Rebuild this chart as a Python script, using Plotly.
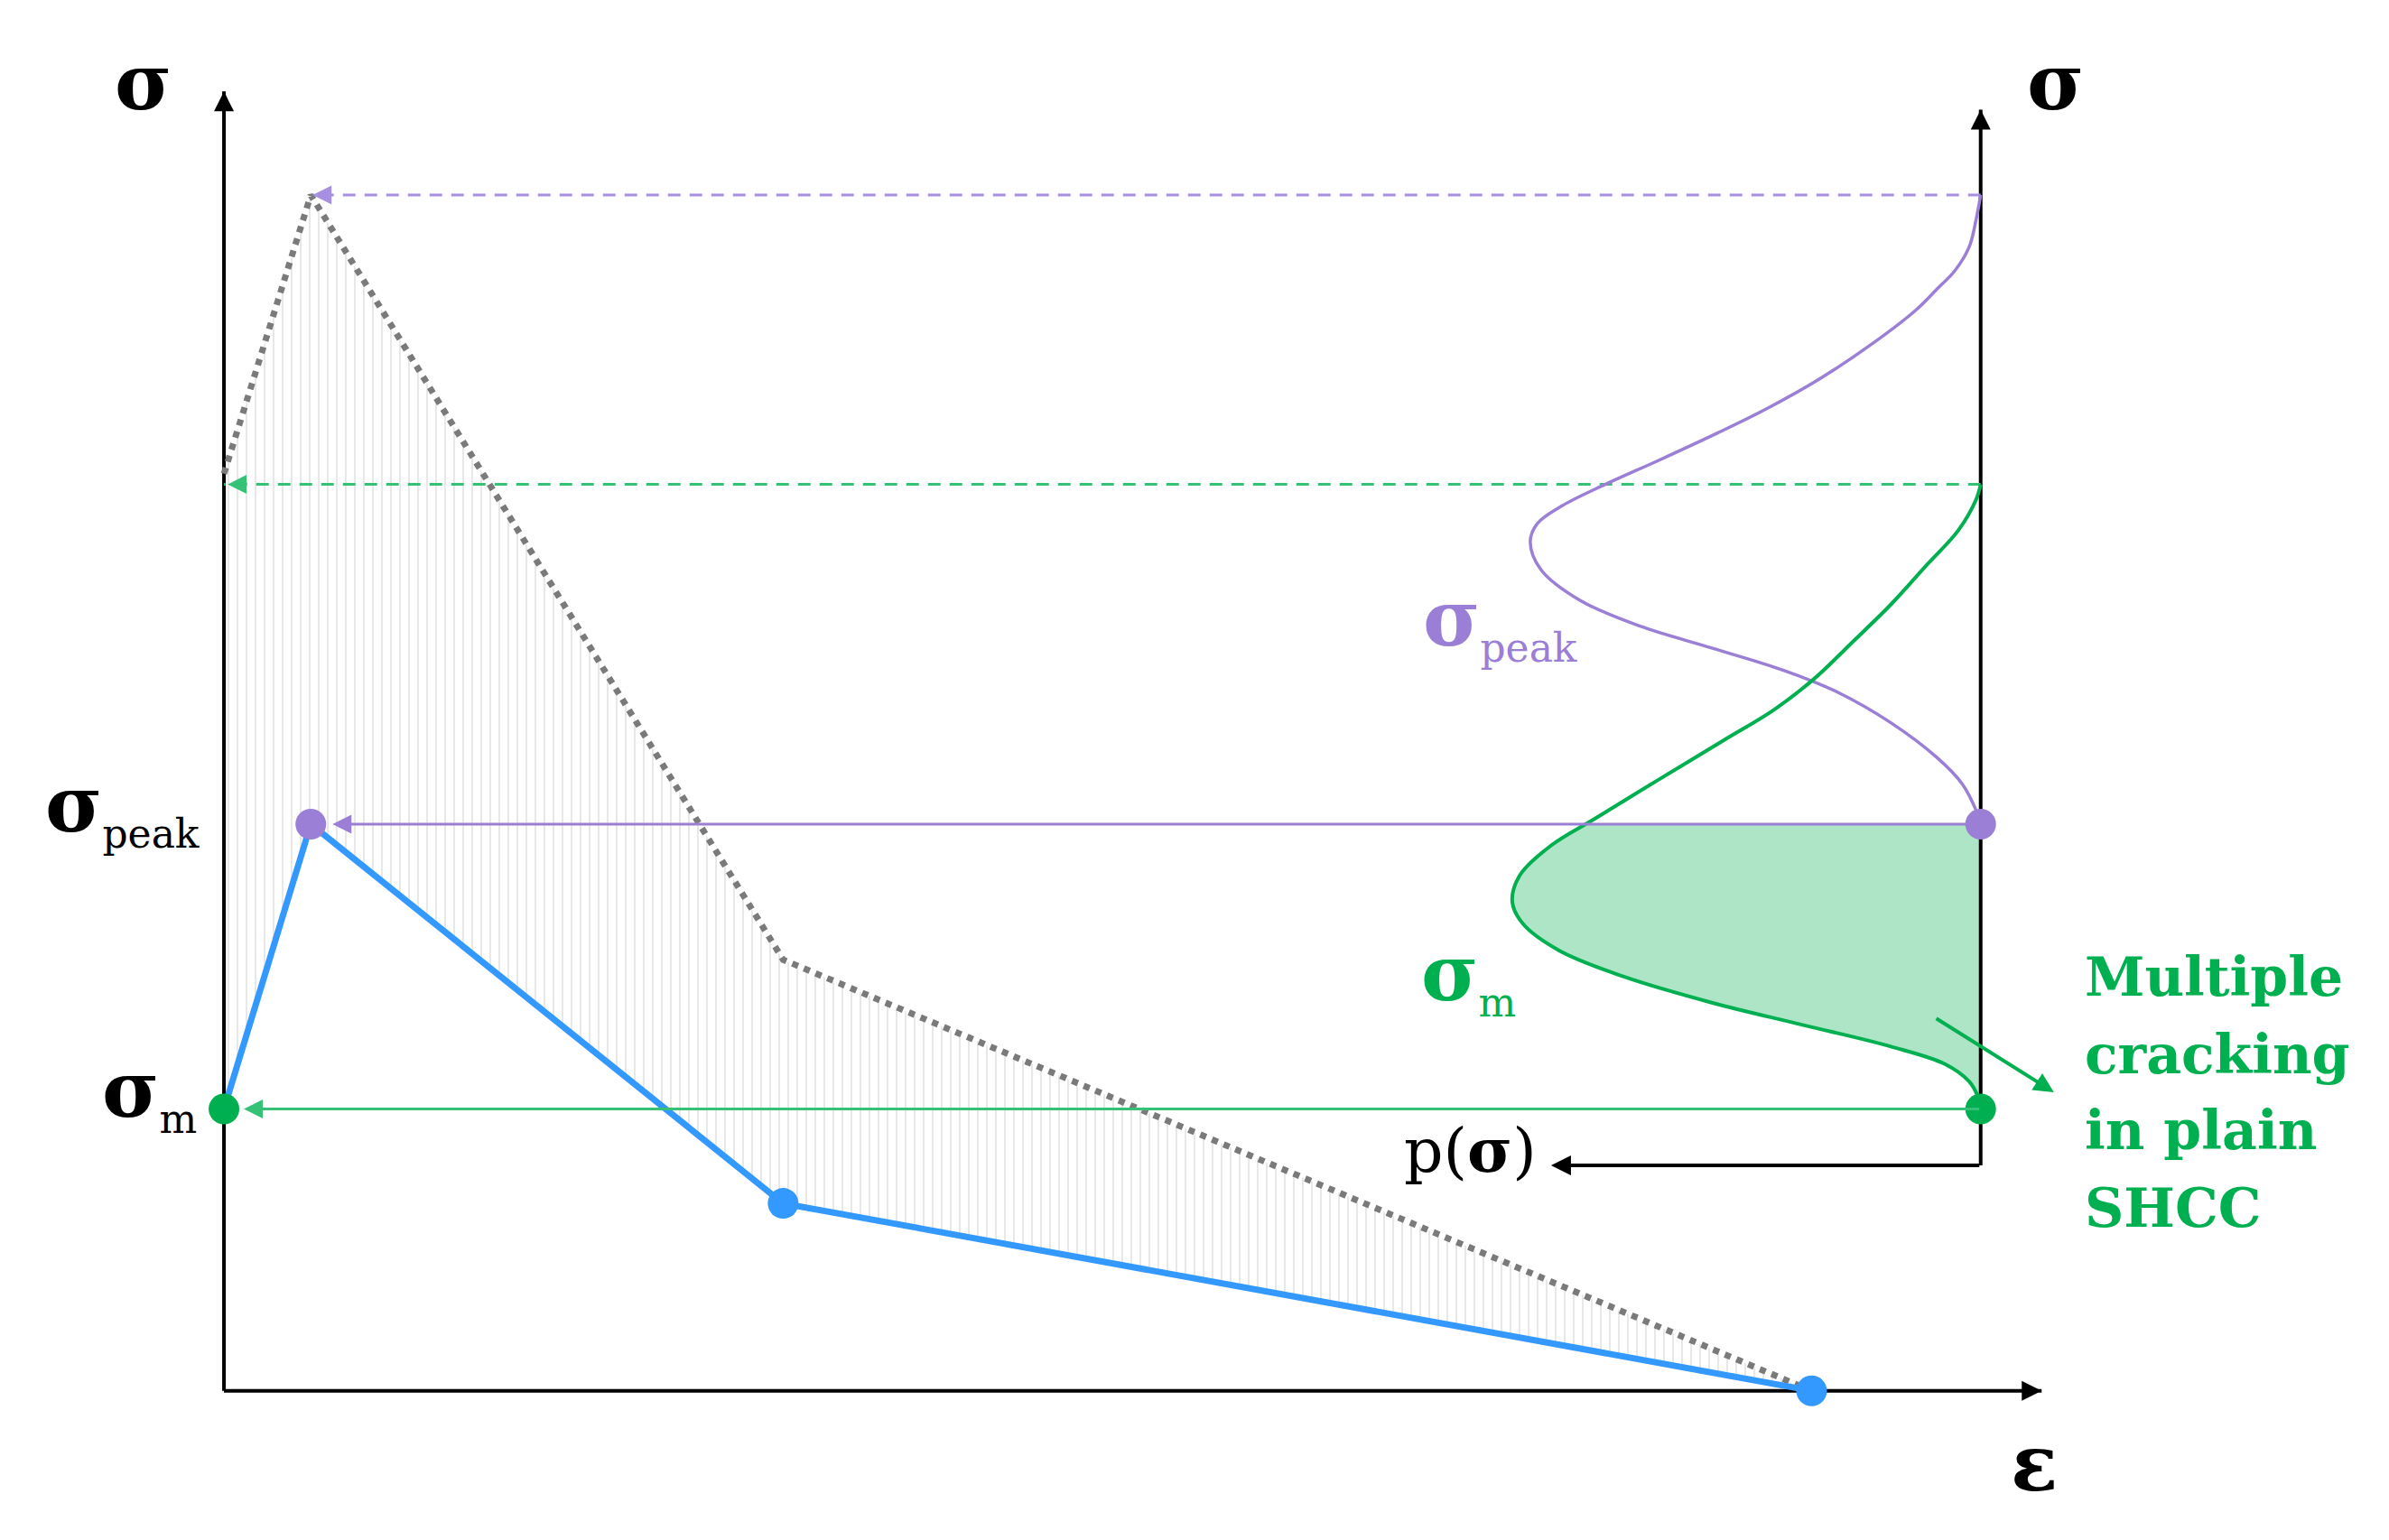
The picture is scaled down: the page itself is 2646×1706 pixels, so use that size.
import numpy as np
import plotly.graph_objects as go

# Curva sigma-epsilon del SHCC (azul) y envolvente punteada (gris)
eps_shcc = [0.0, 0.547, 3.522, 10.0]
sig_shcc = [2.357, 4.739, 1.567, 0.0]
eps_env = [0.0, 0.547, 3.522, 10.0]
sig_env = [7.669, 10.0, 3.605, 0.0]

# Niveles de esfuerzo marcados
sigma_m = 2.357
sigma_peak = 4.739
sigma_peak_top = 10.0
sigma_m_top = 7.58

# Distribuciones p(sigma) dibujadas sobre el eje derecho (hacia la izquierda)
sig_peak_pdf = [10.0, 9.794, 9.567, 9.366, 9.215, 9.038, 8.761, 8.460, 8.209, 8.008, 7.781, 7.580,
                7.403, 7.252, 7.101, 6.868, 6.611, 6.392, 6.210, 6.025, 5.843, 5.587, 5.294, 5.075,
                4.855, 4.739]
p_peak_pdf = [0.0, 0.029, 0.072, 0.163, 0.274, 0.408, 0.678, 1.017, 1.353, 1.660, 2.028, 2.365,
              2.634, 2.793, 2.837, 2.770, 2.524, 2.140, 1.689, 1.241, 0.902, 0.566, 0.274, 0.116,
              0.029, 0.0]
sig_m_pdf = [7.580, 7.452, 7.197, 6.904, 6.575, 6.282, 5.953, 5.697, 5.439, 5.111, 4.782, 4.563,
             4.306, 4.087, 3.904, 3.684, 3.465, 3.244, 3.062, 2.879, 2.734, 2.586, 2.451, 2.357]
p_m_pdf = [0.0, 0.029, 0.140, 0.341, 0.566, 0.791, 1.050, 1.300, 1.620, 2.028, 2.433, 2.703,
           2.905, 2.950, 2.882, 2.658, 2.252, 1.689, 1.128, 0.566, 0.228, 0.072, 0.015, 0.0]

# Geometría de los ejes
R = 11.065          # eje sigma derecho
left_tip = 10.866
right_tip = 10.713
x_tip = 11.449
p_axis = 1.885      # nivel del eje p(sigma)
p_tip = 8.359

BLUE = "#3399ff"
PURPLE = "#9b7ed6"
PURPLE_L = "#a98fe0"
GREEN = "#00b050"
GREEN_L = "#35c277"
GRAY = "#7a7a7a"
FONT = "DejaVu Serif"
SMOOTH = 1.0

fig = go.Figure()

# Zona rayada entre la envolvente y la curva del SHCC
fig.add_trace(go.Scatter(
    x=eps_env + eps_shcc[::-1], y=sig_env + sig_shcc[::-1],
    mode="lines", fill="toself", line=dict(width=0),
    fillcolor="rgba(255,255,255,0)",
    fillpattern=dict(shape="|", size=10, solidity=0.2, fgcolor="#d2d2d2", bgcolor="rgba(255,255,255,0)"),
))

# Área verde bajo sigma_peak
sig_m = np.array(sig_m_pdf)
p_m = np.array(p_m_pdf)
p_cut = np.interp(sigma_peak, sig_m[::-1], p_m[::-1])
mask = sig_m < sigma_peak
fig.add_trace(go.Scatter(x=[R, R], y=[sigma_peak, sigma_m], mode="lines", line=dict(width=0)))
fig.add_trace(go.Scatter(
    x=np.concatenate([[R - p_cut], R - p_m[mask]]),
    y=np.concatenate([[sigma_peak], sig_m[mask]]),
    mode="lines", line=dict(width=0, shape="spline", smoothing=SMOOTH),
    fill="tonextx", fillcolor="#ade5c6",
))

# Ejes
axis_line = dict(color="black", width=4)
fig.add_trace(go.Scatter(x=[0, 0], y=[0, left_tip], mode="lines", line=axis_line))
fig.add_trace(go.Scatter(x=[0, x_tip], y=[0, 0], mode="lines", line=axis_line))
fig.add_trace(go.Scatter(x=[R, R], y=[p_axis, right_tip], mode="lines", line=axis_line))

# Líneas discontinuas de proyección
fig.add_trace(go.Scatter(x=[R, eps_env[1]], y=[sigma_peak_top, sigma_peak_top], mode="lines",
                         line=dict(color=PURPLE_L, width=3, dash="14px,10px")))
fig.add_trace(go.Scatter(x=[R, 0], y=[sigma_m_top, sigma_m_top], mode="lines",
                         line=dict(color=GREEN_L, width=3, dash="14px,10px")))

# Envolvente punteada y curva del SHCC
fig.add_trace(go.Scatter(x=eps_env, y=sig_env, mode="lines", line=dict(color=GRAY, width=7, dash="dot")))
fig.add_trace(go.Scatter(x=eps_shcc, y=sig_shcc, mode="lines", line=dict(color=BLUE, width=7)))

# Distribuciones
fig.add_trace(go.Scatter(x=R - np.array(p_peak_pdf), y=sig_peak_pdf, mode="lines",
                         line=dict(color=PURPLE, width=3.5, shape="spline", smoothing=SMOOTH)))
fig.add_trace(go.Scatter(x=R - p_m, y=sig_m_pdf, mode="lines",
                         line=dict(color=GREEN, width=4, shape="spline", smoothing=SMOOTH)))

# Puntos
fig.add_trace(go.Scatter(x=eps_shcc[2:], y=sig_shcc[2:], mode="markers",
                         marker=dict(color=BLUE, size=34)))
fig.add_trace(go.Scatter(x=[eps_shcc[1], R], y=[sigma_peak, sigma_peak], mode="markers",
                         marker=dict(color=PURPLE, size=34)))
fig.add_trace(go.Scatter(x=[eps_shcc[0], R], y=[sigma_m, sigma_m], mode="markers",
                         marker=dict(color=GREEN, size=34)))


def head(x, y, ax, ay, color, width, size, standoff=0):
    fig.add_annotation(x=x, y=y, ax=ax, ay=ay, xref="x", yref="y", text="", showarrow=True,
                       arrowhead=2, arrowsize=size, arrowwidth=width, arrowcolor=color, standoff=standoff)


def arrow(x, y, ax, ay, color, width, size, standoff=0):
    fig.add_annotation(x=x, y=y, ax=ax, ay=ay, xref="x", yref="y", axref="x", ayref="y", text="",
                       showarrow=True, arrowhead=2, arrowsize=size, arrowwidth=width,
                       arrowcolor=color, standoff=standoff)


head(0, left_tip, 0, 22, "black", 4, 1.1)
head(R, right_tip, 0, 22, "black", 4, 1.1)
head(x_tip, 0, -22, 0, "black", 4, 1.1)
head(eps_env[1], sigma_peak_top, 20, 0, PURPLE_L, 3, 1.4, standoff=2)
head(0, sigma_m_top, 20, 0, GREEN_L, 3, 1.4, standoff=4)
arrow(p_tip, p_axis, R, p_axis, "black", 4, 1.1)
arrow(eps_shcc[1], sigma_peak, R, sigma_peak, PURPLE, 3, 1.4, standoff=24)
arrow(eps_shcc[0], sigma_m, R, sigma_m, GREEN_L, 3, 1.4, standoff=22)
arrow(11.526, 2.497, 10.777, 3.121, GREEN, 4, 1.1)


def label(text, x, y, color="black", size=86, xanchor="center", align="center"):
    fig.add_annotation(x=x, y=y, xref="x", yref="y", text=text, showarrow=False,
                       xanchor=xanchor, yanchor="middle", align=align,
                       font=dict(family=FONT, size=size, color=color))


sub = "<sub><span style='font-size:44px'>%s</span></sub>"
label("<b>σ</b>", -0.51, 10.95)
label("<b>σ</b>", 11.536, 10.95)
label("<b>ε</b>", 11.401, -0.60)
label("<b>σ</b>" + sub % "peak", -0.143, 4.88, xanchor="right")
label("<b>σ</b>" + sub % "m", -0.162, 2.49, xanchor="right")
label("<b>σ</b>" + sub % "peak", 7.543, 6.43, color=PURPLE, xanchor="left")
label("<b>σ</b>" + sub % "m", 7.53, 3.47, color=GREEN, xanchor="left")
label("p(<b>σ</b>)", 7.85, 2.013, size=68)

crack_lines = ["Multiple", "cracking", "in plain", "SHCC"]
crack_y = [3.465, 2.815, 2.178, 1.529]
for txt, yy in zip(crack_lines, crack_y):
    label("<b>%s</b>" % txt, 11.708, yy, color=GREEN, size=60, xanchor="left", align="left")

# El body de la página añade 8 px de margen: se compensa en los rangos
fig.update_layout(
    width=2646, height=1706,
    margin=dict(l=0, r=0, t=0, b=0),
    paper_bgcolor="white", plot_bgcolor="white",
    showlegend=False,
    xaxis=dict(range=[-1.3652, 13.6825], visible=False, fixedrange=True),
    yaxis=dict(range=[-1.3084, 11.5706], visible=False, fixedrange=True),
)

fig.write_html("out.html")
